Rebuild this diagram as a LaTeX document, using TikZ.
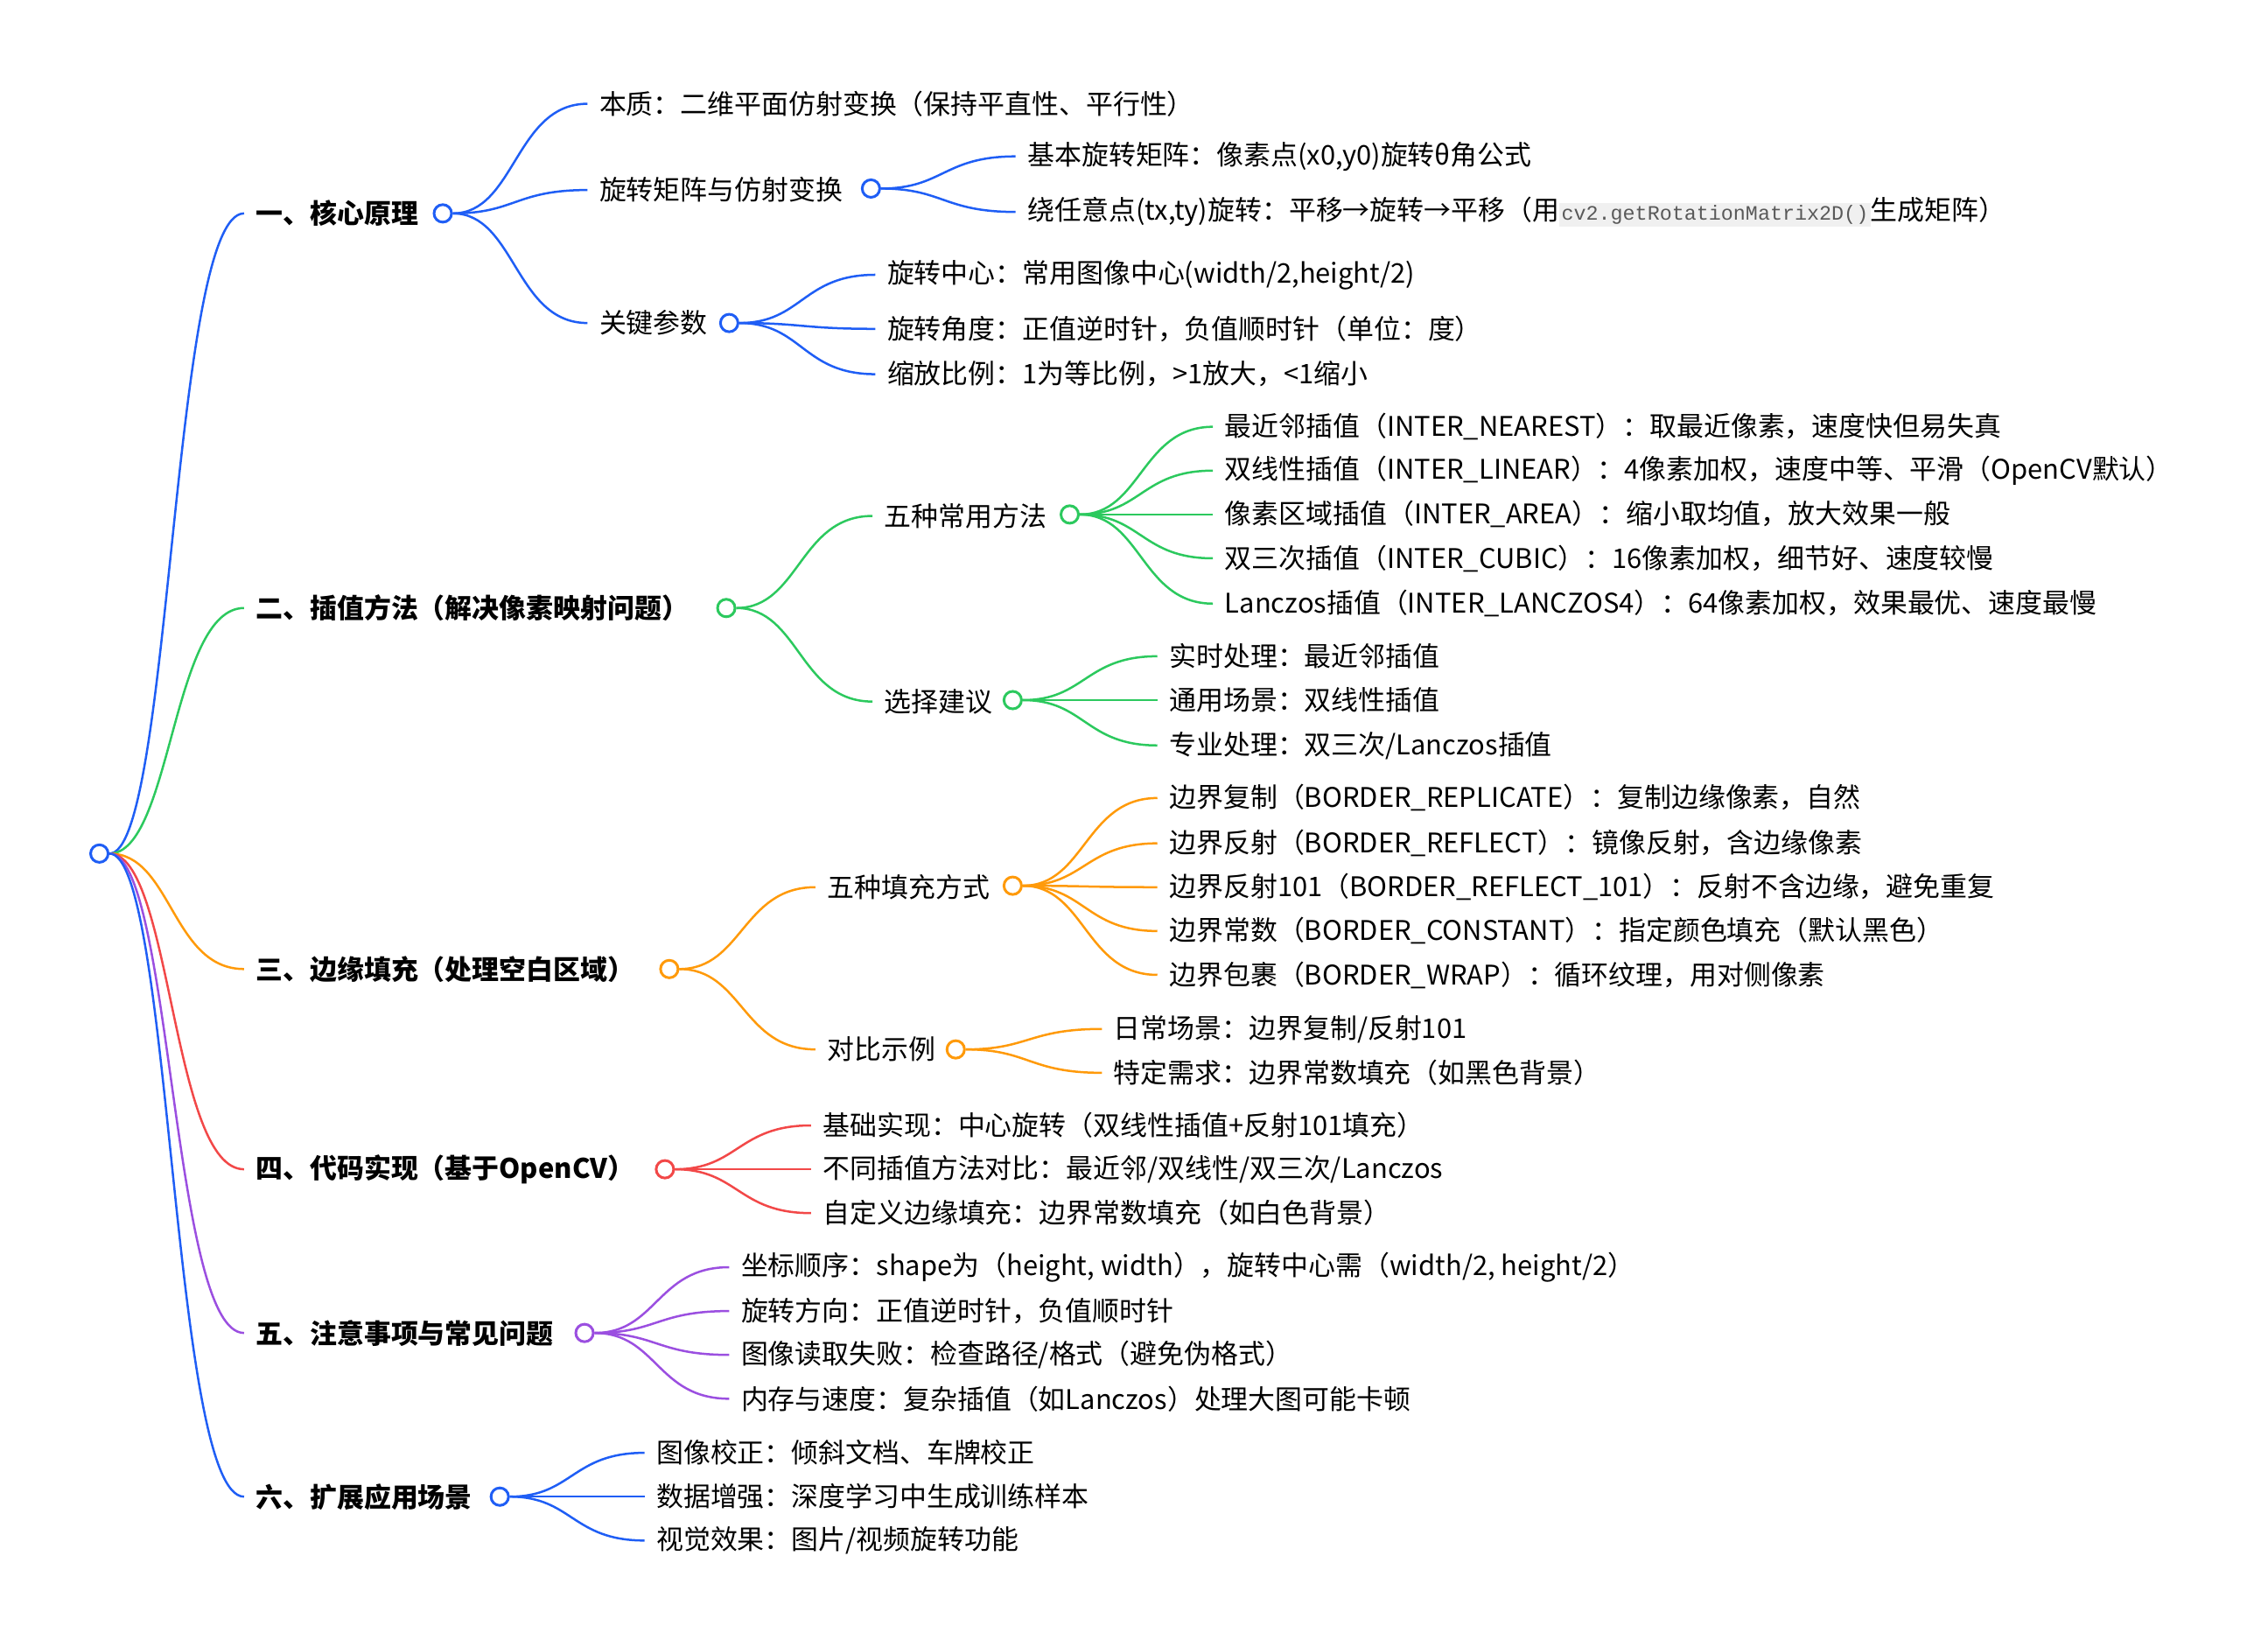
\documentclass[tikz,border=0pt]{standalone}
\usepackage{fontspec}
\setmainfont{Noto Sans CJK SC}
\setmonofont{Liberation Mono}
\usetikzlibrary{backgrounds,calc}
\definecolor{cb}{HTML}{1F5EF5}
\definecolor{cg}{HTML}{2CC95E}
\definecolor{co}{HTML}{FF9A0A}
\definecolor{cr}{HTML}{F24848}
\definecolor{cp}{HTML}{9B4FE0}
\tikzset{
 lft/.style={anchor=west,inner sep=0pt,font=\fontsize{18.5}{20}\selectfont},
 l1t/.style={anchor=west,inner sep=0pt,font=\fontsize{18.5}{20}\selectfont\bfseries},
 dot/.style={circle,draw=#1,fill=white,line width=1.8pt,minimum size=12pt,inner sep=0pt},
 con/.style={draw=#1,line width=1.5pt},
}
\newcommand\code[1]{\tikz[baseline=(x.base)]\node(x)[fill=black!6,inner sep=1.5pt,text=black!65]{\fontsize{14}{16}\ttfamily #1};}
% name,x,y,text,parent,parentx,color,style
\newcommand\lf[8]{%
 \node[#8] (#1) at (#2,#3) {#4};
 \pgfmathsetmacro\mx{(#6+#2-8)/2}
 \coordinate (M#1) at (\mx,#3);
 \begin{pgfonlayer}{background}
 \draw[con=#7] (#5.east) .. controls (M#1 |- #5.east) and (M#1) .. ([xshift=-8pt]#1.west);
 \end{pgfonlayer}}
\begin{document}
\begin{tikzpicture}[x=1pt,y=-1pt]
\useasboundingbox (0,0) rectangle (1552,1112);
\node[dot=cb] (root) at (68,584) {};
% level 1
\lf{A}{175}{146}{一、核心原理}{root}{68}{cb}{l1t}
\lf{B}{175}{416}{二、插值方法（解决像素映射问题）}{root}{68}{cg}{l1t}
\lf{C}{175}{663}{三、边缘填充（处理空白区域）}{root}{68}{co}{l1t}
\lf{D}{175}{800}{四、代码实现（基于OpenCV）}{root}{68}{cr}{l1t}
\lf{E}{175}{912}{五、注意事项与常见问题}{root}{68}{cp}{l1t}
\lf{F}{175}{1024}{六、扩展应用场景}{root}{68}{cb}{l1t}
\node[dot=cb] (Ac) at (303,146) {};
\node[dot=cg] (Bc) at (497,416) {};
\node[dot=co] (Cc) at (458,663) {};
\node[dot=cr] (Dc) at (455,800) {};
\node[dot=cp] (Ec) at (400,912) {};
\node[dot=cb] (Fc) at (342,1024) {};
% A
\lf{A1}{410}{71}{本质：二维平面仿射变换（保持平直性、平行性）}{Ac}{303}{cb}{lft}
\lf{A2}{410}{130}{旋转矩阵与仿射变换}{Ac}{303}{cb}{lft}
\lf{A3}{410}{221}{关键参数}{Ac}{303}{cb}{lft}
\node[dot=cb] (A2c) at (596,129) {};
\node[dot=cb] (A3c) at (499,221) {};
\lf{A21}{703}{107}{基本旋转矩阵：像素点(x0,y0)旋转θ角公式}{A2c}{596}{cb}{lft}
\lf{A22}{703}{145}{绕任意点(tx,ty)旋转：平移→旋转→平移（用\code{cv2.getRotationMatrix2D()}生成矩阵）}{A2c}{596}{cb}{lft}
\lf{A31}{607}{188}{旋转中心：常用图像中心(width/2,height/2)}{A3c}{499}{cb}{lft}
\lf{A32}{607}{225}{旋转角度：正值逆时针，负值顺时针（单位：度）}{A3c}{499}{cb}{lft}
\lf{A33}{607}{256}{缩放比例：1为等比例，>1放大，<1缩小}{A3c}{499}{cb}{lft}
% B
\lf{B1}{605}{353}{五种常用方法}{Bc}{497}{cg}{lft}
\lf{B2}{605}{480}{选择建议}{Bc}{497}{cg}{lft}
\node[dot=cg] (B1c) at (732,352) {};
\node[dot=cg] (B2c) at (693,479) {};
\lf{B11}{838}{292}{最近邻插值（INTER\_NEAREST）：取最近像素，速度快但易失真}{B1c}{732}{cg}{lft}
\lf{B12}{838}{322}{双线性插值（INTER\_LINEAR）：4像素加权，速度中等、平滑（OpenCV默认）}{B1c}{732}{cg}{lft}
\lf{B13}{838}{352}{像素区域插值（INTER\_AREA）：缩小取均值，放大效果一般}{B1c}{732}{cg}{lft}
\lf{B14}{838}{382}{双三次插值（INTER\_CUBIC）：16像素加权，细节好、速度较慢}{B1c}{732}{cg}{lft}
\lf{B15}{838}{413}{Lanczos插值（INTER\_LANCZOS4）：64像素加权，效果最优、速度最慢}{B1c}{732}{cg}{lft}
\lf{B21}{800}{449}{实时处理：最近邻插值}{B2c}{693}{cg}{lft}
\lf{B22}{800}{479}{通用场景：双线性插值}{B2c}{693}{cg}{lft}
\lf{B23}{800}{510}{专业处理：双三次/Lanczos插值}{B2c}{693}{cg}{lft}
% C
\lf{C1}{566}{607}{五种填充方式}{Cc}{458}{co}{lft}
\lf{C2}{566}{718}{对比示例}{Cc}{458}{co}{lft}
\node[dot=co] (C1c) at (693,606) {};
\node[dot=co] (C2c) at (654,718) {};
\lf{C11}{800}{546}{边界复制（BORDER\_REPLICATE）：复制边缘像素，自然}{C1c}{693}{co}{lft}
\lf{C12}{800}{577}{边界反射（BORDER\_REFLECT）：镜像反射，含边缘像素}{C1c}{693}{co}{lft}
\lf{C13}{800}{607}{边界反射101（BORDER\_REFLECT\_101）：反射不含边缘，避免重复}{C1c}{693}{co}{lft}
\lf{C14}{800}{637}{边界常数（BORDER\_CONSTANT）：指定颜色填充（默认黑色）}{C1c}{693}{co}{lft}
\lf{C15}{800}{667}{边界包裹（BORDER\_WRAP）：循环纹理，用对侧像素}{C1c}{693}{co}{lft}
\lf{C21}{762}{704}{日常场景：边界复制/反射101}{C2c}{654}{co}{lft}
\lf{C22}{762}{734}{特定需求：边界常数填充（如黑色背景）}{C2c}{654}{co}{lft}
% D
\lf{D1}{563}{770}{基础实现：中心旋转（双线性插值+反射101填充）}{Dc}{455}{cr}{lft}
\lf{D2}{563}{800}{不同插值方法对比：最近邻/双线性/双三次/Lanczos}{Dc}{455}{cr}{lft}
\lf{D3}{563}{830}{自定义边缘填充：边界常数填充（如白色背景）}{Dc}{455}{cr}{lft}
% E
\lf{E1}{507}{867}{坐标顺序：shape为（height, width），旋转中心需（width/2, height/2）}{Ec}{400}{cp}{lft}
\lf{E2}{507}{897}{旋转方向：正值逆时针，负值顺时针}{Ec}{400}{cp}{lft}
\lf{E3}{507}{927}{图像读取失败：检查路径/格式（避免伪格式）}{Ec}{400}{cp}{lft}
\lf{E4}{507}{957}{内存与速度：复杂插值（如Lanczos）处理大图可能卡顿}{Ec}{400}{cp}{lft}
% F
\lf{F1}{449}{994}{图像校正：倾斜文档、车牌校正}{Fc}{342}{cb}{lft}
\lf{F2}{449}{1024}{数据增强：深度学习中生成训练样本}{Fc}{342}{cb}{lft}
\lf{F3}{449}{1054}{视觉效果：图片/视频旋转功能}{Fc}{342}{cb}{lft}
\end{tikzpicture}
\end{document}
